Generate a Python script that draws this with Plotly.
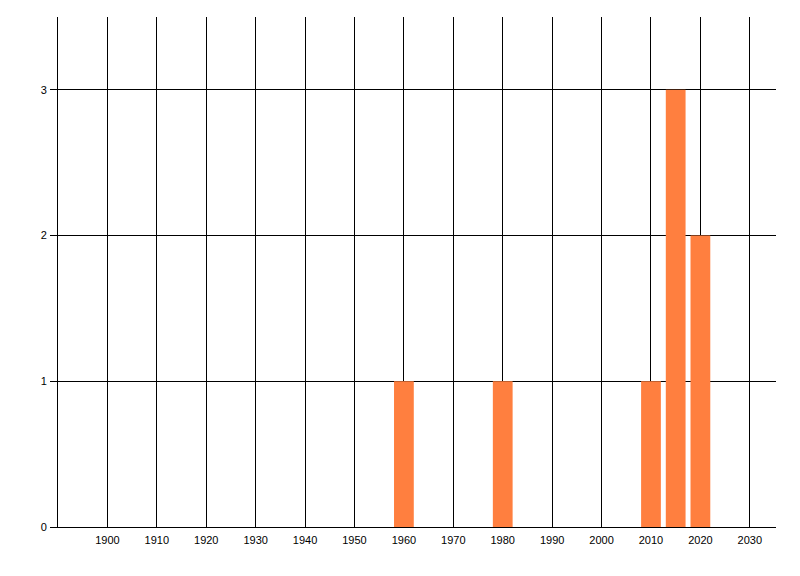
import plotly.graph_objects as go

years = [1960, 1980, 2010, 2015, 2020]
counts = [1, 1, 1, 3, 2]
x_ticks = list(range(1900, 2031, 10))
y_ticks = [0, 1, 2, 3]

fig = go.Figure()
fig.add_trace(go.Bar(x=years, y=counts, width=4, marker=dict(color="#FF7F3F", line=dict(width=0))))

fig.update_layout(
    width=800, height=576,
    margin=dict(l=50, r=32, t=9, b=57, autoexpand=False),
    paper_bgcolor="white", plot_bgcolor="white",
    showlegend=False,
    font=dict(family="Liberation Sans, Arial, sans-serif", size=11, color="black"),
)
fig.update_xaxes(
    range=[1890, 2035.3], tickvals=x_ticks, ticktext=[str(v) for v in x_ticks],
    showgrid=True, gridcolor="black", gridwidth=1,
    showline=True, linecolor="black", linewidth=1,
    ticks="", zeroline=False, ticklabelstandoff=3, automargin=False,
)
fig.update_yaxes(
    range=[0, 3.5], tickvals=y_ticks, ticktext=[str(v) for v in y_ticks],
    showgrid=True, gridcolor="black", gridwidth=1,
    showline=True, linecolor="black", linewidth=1,
    ticks="outside", ticklen=7, tickcolor="black", zeroline=False,
    ticklabelstandoff=1, automargin=False,
)
fig.write_html("out.html")
